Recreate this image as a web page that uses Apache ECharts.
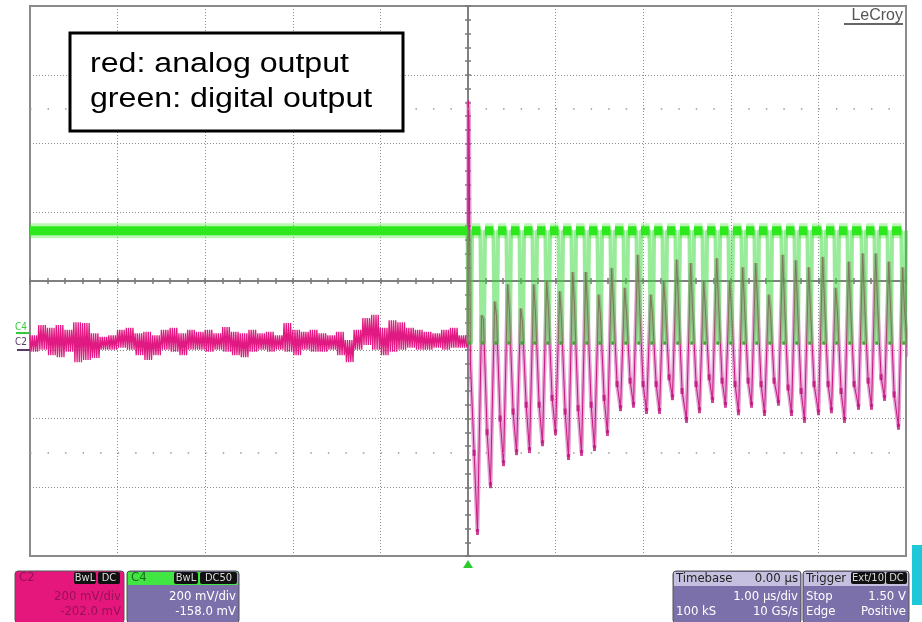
<!DOCTYPE html>
<html><head><meta charset="utf-8">
<script src="https://cdn.jsdelivr.net/npm/echarts/dist/echarts.min.js"></script>
<style>html,body{margin:0;padding:0;background:#fff}#c{width:922px;height:622px}</style>
</head><body><div id="c"></div>
<script>
// ---- data (x in µs, y in divisions) ----
const pulseT = [0.000,0.148,0.297,0.445,0.594,0.742,0.890,1.039,1.187,1.336,1.484,1.632,1.781,1.929,2.078,2.226,2.374,2.534,2.683,2.831,2.979,3.128,3.276,3.425,3.584,3.733,3.881,4.041,4.189,4.338,4.498,4.646,4.795,4.954];
const redPeak = [2.62,-0.50,-0.30,-0.05,-0.40,-0.05,0.00,-0.15,0.13,0.13,-0.20,0.19,-0.10,0.38,-0.20,0.00,0.31,0.26,0.00,0.33,0.00,0.20,0.26,-0.20,0.38,0.30,0.20,0.35,-0.10,0.28,0.40,0.40,0.28,0.20];
const redShoulder = [-1.20,-0.55,-0.50,-0.45,-0.60,-0.45,-0.40,-0.55,-0.35,-0.40,-0.50,-0.35,-0.45,-0.30,-0.50,-0.40,-0.30,-0.35,-0.45,-0.30,-0.40,-0.35,-0.30,-0.45,-0.30,-0.35,-0.40,-0.30,-0.45,-0.35,-0.30,-0.30,-0.35,-0.40];
const redMid = [-2.50,-2.20,-2.00,-1.90,-1.80,-1.80,-1.70,-1.90,-1.85,-1.80,-1.70,-1.50,-1.45,-1.50,-1.50,-1.40,-1.60,-1.50,-1.40,-1.45,-1.50,-1.45,-1.50,-1.45,-1.55,-1.60,-1.50,-1.50,-1.60,-1.50,-1.45,-1.40,-1.65,-1.10];
const redLow = [-3.65,-2.97,-2.65,-2.49,-2.46,-2.36,-2.20,-2.56,-2.50,-2.43,-2.21,-1.85,-1.80,-1.89,-1.89,-1.69,-2.02,-1.88,-1.73,-1.80,-1.91,-1.80,-1.92,-1.77,-1.92,-2.02,-1.91,-1.88,-2.02,-1.83,-1.83,-1.70,-2.12];
const redUpper = [-0.79,-0.64,-0.68,-0.64,-0.71,-0.60,-0.61,-0.76,-0.81,-0.79,-0.71,-0.68,-0.76,-0.74,-0.79,-0.71,-0.68,-0.76,-0.71,-0.74,-0.71,-0.76,-0.67,-0.74,-0.76,-0.71,-0.76,-0.74,-0.79,-0.61,-0.71,-0.74,-0.71,-0.76,-0.79,-0.74,-0.86,-0.71,-0.54,-0.49,-0.68,-0.57,-0.60,-0.68,-0.71,-0.74,-0.76,-0.71,-0.68,-0.79];
const redLower = [-1.03,-1.00,-1.08,-1.11,-1.03,-1.18,-1.15,-1.12,-1.00,-1.00,-0.97,-1.00,-1.08,-1.15,-1.08,-1.00,-1.03,-1.08,-1.00,-1.00,-1.03,-1.00,-1.03,-1.08,-1.11,-1.03,-1.00,-1.03,-1.00,-1.03,-1.08,-1.00,-1.03,-1.03,-1.00,-1.08,-1.18,-1.00,-0.93,-1.00,-1.08,-1.03,-1.00,-0.97,-1.00,-1.00,-0.97,-1.00,-0.97,-0.97];
const triggerSpike = [[0,-0.90],[0.004,2.62],[0.012,2.35],[0.028,-1.20]];
const greenLevel = [0.73,-0.90];
const markerLevels = [2.5,-2.5];

// ---- build traces from the read values ----
const redPre = [];
for (let i = 0; i < redUpper.length; i++) {
  const t = -5 + 0.1 * i;
  for (let j = 0; j < 8; j++) redPre.push([t + j * 0.0125, j % 2 ? redLower[i] : redUpper[i]]);
}
redPre.push(triggerSpike[0]);
const redPost = [];
const redDwell = [];
pulseT.forEach((t, k) => {
  if (k === 0) triggerSpike.forEach(p => redPost.push(p));
  else { redPost.push([t + 0.008, redPeak[k]]); redPost.push([t + 0.028, redShoulder[k]]); }
  redPost.push([t + 0.07, redMid[k]]);
  redDwell.push([t + 0.07, redMid[k]]);
  if (k < redLow.length) {
    redPost.push([pulseT[k + 1] - 0.04, redLow[k]]);
    redDwell.push([pulseT[k + 1] - 0.04, redLow[k]]);
  }
});
const gH = greenLevel[0], gL = greenLevel[1];
const green = [[-5, gH]], greenHi = [[-5, gH]], greenLo = [];
pulseT.forEach(t => {
  green.push([t - 0.006, gH], [t + 0.006, gL], [t + 0.034, gL], [t + 0.046, gH]);
  greenHi.push([t - 0.006, gH], [t, '-'], [t + 0.046, gH]);
  greenLo.push([t + 0.006, gL], [t + 0.034, gL], [t + 0.02, '-']);
});
green.push([5, gH]); greenHi.push([5, gH]);

// ---- chart ----
const chart = echarts.init(document.getElementById('c'));
const NF = "'Liberation Sans Narrow','DejaVu Sans Condensed','Liberation Sans',sans-serif";
const AF = "'Liberation Sans',Arial,sans-serif";
const G = [];
function rect(x, y, w, h, fill, stroke, r) { G.push({type:'rect', z:100, shape:{x, y, width:w, height:h, r:r||0}, style:{fill, stroke:stroke||null, lineWidth:stroke?1:0}}); }
function txt(x, y, s, fill, align, font, sx) { G.push({type:'text', z:101, x, y, scaleX:sx||1, style:{text:s, fill, font:font||('13px ' + NF), textAlign:align||'left', textVerticalAlign:'middle'}}); }
function tag(x, w, s, col) { rect(x, 572, w, 12, '#111', null, 2); txt(x + w / 2, 578, s, col || '#ddd', 'center', '11px ' + NF); }

// annotation box
G.push({type:'rect', z:100, shape:{x:70, y:33, width:333, height:98}, style:{fill:'#fff', stroke:'#000', lineWidth:3}});
txt(90, 65, 'red: analog output', '#000', 'left', '27px ' + AF, 1.19);
txt(90, 100, 'green: digital output', '#000', 'left', '27px ' + AF, 1.19);
// LeCroy logo
txt(903, 16, 'LeCroy', '#555', 'right', '16px ' + AF);
rect(844, 23, 59, 2, '#666');
// channel markers at left
txt(15, 327, 'C4', '#3cc83c', 'left', '10px ' + NF);
rect(16, 332, 13, 2, '#3cc83c');
txt(15, 342, 'C2', '#5a3a6a', 'left', '10px ' + NF);
rect(17, 349, 13, 2, '#5a3a6a');
// trigger position marker
G.push({type:'polygon', z:100, shape:{points:[[463,568],[473,568],[468,560]]}, style:{fill:'#2ecc2e'}});
// C2 box
rect(15, 571, 109, 52, '#e5177c', '#555', 3);
txt(19, 578, 'C2', '#9a1058');
tag(74, 22, 'BwL'); tag(98, 22, 'DC');
txt(121, 597, '200 mV/div', '#9a1058', 'right');
txt(121, 612, '-202.0 mV', '#9a1058', 'right');
// C4 box
rect(127, 571, 112, 52, '#7b70aa', '#555', 3);
rect(128, 572, 110, 13, '#42e642');
txt(131, 578, 'C4', '#1a6a1a');
tag(174, 24, 'BwL'); tag(200, 37, 'DC50');
txt(236, 597, '200 mV/div', '#fff', 'right');
txt(236, 612, '-158.0 mV', '#fff', 'right');
// Timebase box
rect(673, 571, 128, 52, '#7b70aa', '#555', 3);
rect(674, 572, 126, 14, '#c5c0e0');
txt(676, 579, 'Timebase', '#222');
txt(798, 579, '0.00 µs', '#222', 'right');
txt(798, 597, '1.00 µs/div', '#fff', 'right');
txt(676, 612, '100 kS', '#fff');
txt(798, 612, '10 GS/s', '#fff', 'right');
// Trigger box
rect(803, 571, 106, 52, '#7b70aa', '#555', 3);
rect(804, 572, 104, 14, '#c5c0e0');
txt(806, 579, 'Trigger', '#222');
tag(851, 34, 'Ext/10'); tag(886, 21, 'DC');
txt(806, 597, 'Stop', '#fff');
txt(906, 597, '1.50 V', '#fff', 'right');
txt(806, 612, 'Edge', '#fff');
txt(906, 612, 'Positive', '#fff', 'right');
// right cyan strip
rect(912, 545, 10, 60, '#1ec8d8');

const gridLine = {show:true, lineStyle:{color:'#8c8c8c', type:[1,2], width:1}};
const noLab = {show:false};
function centerX(inside) {
  return {type:'value', min:-5, max:5, interval:1, position:'bottom',
    axisLine:{show:true, onZero:true, lineStyle:{color:'#7a7a7a', width:1.5}},
    axisTick:{show:true, inside, length:3, lineStyle:{color:'#7a7a7a', width:1.5}},
    minorTick:{show:true, splitNumber:5, length:3, lineStyle:{color:'#7a7a7a', width:1.5}},
    axisLabel:noLab, splitLine:{show:false}};
}
function centerY(inside) {
  return {type:'value', min:-4, max:4, interval:1, position:'left',
    axisLine:{show:true, onZero:true, onZeroAxisIndex:0, lineStyle:{color:'#7a7a7a', width:1.5}},
    axisTick:{show:true, inside, length:3, lineStyle:{color:'#7a7a7a', width:1.5}},
    minorTick:{show:true, splitNumber:5, length:3, lineStyle:{color:'#7a7a7a', width:1.5}},
    axisLabel:noLab, splitLine:{show:false}};
}

chart.setOption({
  animation:false,
  backgroundColor:'#fff',
  grid:{left:30, top:6, width:876, height:550, show:true, borderColor:'#8a8a8a', borderWidth:2, backgroundColor:'#fff'},
  xAxis:[
    {type:'value', min:-5, max:5, interval:1, position:'bottom', axisLine:{show:false}, axisTick:{show:false}, axisLabel:noLab, splitLine:gridLine},
    centerX(false), centerX(true)
  ],
  yAxis:[
    {type:'value', min:-4, max:4, interval:1, position:'left', axisLine:{show:false}, axisTick:{show:false}, axisLabel:noLab, splitLine:gridLine},
    centerY(false), centerY(true)
  ],
  series:[
    {type:'line', name:'red pre', data:redPre, showSymbol:false, z:2, lineStyle:{color:'#e01a82', width:1.3},
      markLine:{silent:true, symbol:'none', label:{show:false}, lineStyle:{color:'#9a9a9a', type:[1.5,16.02], width:1.5},
        data:markerLevels.map(v => ({yAxis:v}))}},
    {type:'line', name:'red post', data:redPost, showSymbol:false, z:2, lineStyle:{color:'rgba(205,90,180,0.55)', width:4}},
    {type:'line', name:'red post core', data:redPost, showSymbol:false, z:2, lineStyle:{color:'#c8187e', width:1}},
    {type:'scatter', name:'red dwell', data:redDwell, z:2, symbol:'rect', symbolSize:[3,6], itemStyle:{color:'#c0137a'}},
    {type:'line', name:'green', data:green, showSymbol:false, z:3, lineStyle:{color:'rgba(50,215,50,0.5)', width:4}},
    {type:'line', name:'green halo', data:greenHi, showSymbol:false, connectNulls:false, z:4, lineStyle:{color:'rgba(60,230,40,0.35)', width:15}},
    {type:'line', name:'green high', data:greenHi, showSymbol:false, connectNulls:false, z:4, lineStyle:{color:'#2ee81e', width:9}},
    {type:'line', name:'green low', data:greenLo, showSymbol:false, connectNulls:false, z:4, lineStyle:{color:'#45a032', width:3}}
  ],
  graphic:{elements:G}
});
</script></body></html>
